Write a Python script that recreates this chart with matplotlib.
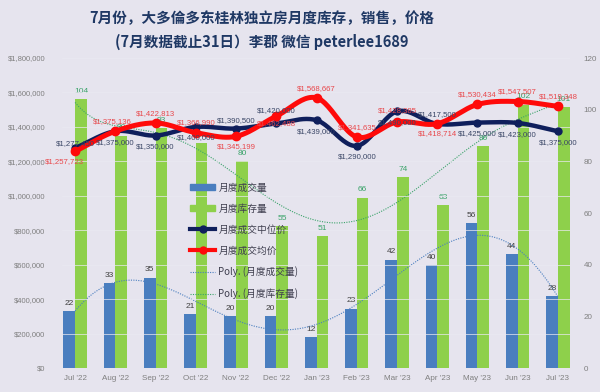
import numpy as np
import matplotlib
matplotlib.use("Agg")
import matplotlib.pyplot as plt
from matplotlib.lines import Line2D
from matplotlib.patches import Patch

plt.rcParams['font.family'] = ['Noto Sans CJK SC', 'DejaVu Sans']
NARROW = ['Liberation Sans Narrow', 'Liberation Sans', 'DejaVu Sans']

months = ["Jul '22", "Aug '22", "Sep '22", "Oct '22", "Nov '22", "Dec '22", "Jan '23",
          "Feb '23", "Mar '23", "Apr '23", "May '23", "Jun '23", "Jul '23"]
sales = [22, 33, 35, 21, 20, 20, 12, 23, 42, 40, 56, 44, 28]
inventory = [104, 90, 93, 87, 80, 55, 51, 66, 74, 63, 86, 102, 101]
median_price = [1277450, 1375000, 1350000, 1400000, 1390500, 1420000, 1439000,
                1290000, 1490000, 1417500, 1425000, 1423000, 1375000]
avg_price = [1257723, 1375136, 1422813, 1366990, 1345199, 1462488, 1568667,
             1341635, 1428385, 1418714, 1530434, 1547507, 1519348]

# label offsets (points) for price labels
med_off = [(0, 3), (0, -8), (0, -8), (0, -8), (0, 6), (0, 9), (0, -8),
           (0, -8), (0, -8), (0, 7), (0, -8), (0, -8), (0, -8)]
avg_off = [(-8, -7), (-2, 7), (0, 7), (0, 7), (0, -7), (0, -5), (0, 7),
           (0, 7), (0, 8), (0, -7), (0, 7), (0, 7), (0, 7)]

BG = '#E6E4EE'
BLUE = '#4A7EBF'
GREEN = '#8ED04B'
NAVY = '#0F1F5C'
RED = '#FF0A0A'


def smooth(xs, ys, n=24):
    xs = np.asarray(xs, float); ys = np.asarray(ys, float)
    px = np.concatenate([[2 * xs[0] - xs[1]], xs, [2 * xs[-1] - xs[-2]]])
    py = np.concatenate([[2 * ys[0] - ys[1]], ys, [2 * ys[-1] - ys[-2]]])
    ox, oy = [], []
    t = np.linspace(0, 1, n, endpoint=False)
    for i in range(1, len(px) - 2):
        for arr, out in ((px, ox), (py, oy)):
            p0, p1, p2, p3 = arr[i - 1], arr[i], arr[i + 1], arr[i + 2]
            out.extend(0.5 * ((2 * p1) + (-p0 + p2) * t + (2 * p0 - 5 * p1 + 4 * p2 - p3) * t ** 2
                              + (-p0 + 3 * p1 - 3 * p2 + p3) * t ** 3))
    ox.append(xs[-1]); oy.append(ys[-1])
    return np.array(ox), np.array(oy)


fig = plt.figure(figsize=(6.0, 3.92), dpi=100, facecolor=BG)
ax = fig.add_axes([0.103, 0.061, 0.847, 0.791])   # bars (right scale)
ax.set_facecolor(BG)
ax2 = ax.twinx()                                   # prices (left scale)

x = np.arange(len(months))
w = 0.29
ax.bar(x - w / 2, sales, w, color=BLUE, zorder=2)
ax.bar(x + w / 2, inventory, w, color=GREEN, zorder=2)
for xi, s, v in zip(x, sales, inventory):
    ax.annotate(str(s), (xi - w / 2, s), xytext=(0, 3), textcoords='offset points',
                ha='center', va='bottom', fontsize=6, color='#404040', family=NARROW)
    ax.annotate(str(v), (xi + w / 2, v), xytext=(0, 3), textcoords='offset points',
                ha='center', va='bottom', fontsize=6, color='#3BA36A', family=NARROW)

# polynomial trend lines (fit to data)
xf = np.linspace(0, 12, 300)
ps = np.polyfit(x, sales, 6)
pi = np.polyfit(x, inventory, 6)
ax.plot(xf, np.polyval(ps, xf), ls=(0, (1, 1.2)), lw=0.8, color='#4A7EBF', zorder=3)
ax.plot(xf, np.polyval(pi, xf), ls=(0, (1, 1.2)), lw=0.8, color='#3BA36A', zorder=3)

ax.set_ylim(0, 120)
ax.set_yticks(range(0, 121, 20))
ax.yaxis.tick_right()
ax.set_xlim(-0.33, 12.3)
ax.set_xticks(x)
ax.set_xticklabels(months)
ax.tick_params(axis='x', length=0, labelsize=5.8, labelcolor='#7F7F7F', pad=5)
ax.tick_params(axis='y', length=0, labelsize=5.8, labelcolor='#7F7F7F', pad=10)
for lbl in ax.get_xticklabels() + ax.get_yticklabels():
    lbl.set_family(NARROW)

# prices
sx, sy = smooth(x, median_price)
ax2.plot(sx, sy, color=NAVY, lw=3.2, zorder=4, solid_capstyle='round')
ax2.plot(x, median_price, 'o', color=NAVY, ms=5, zorder=4)
sx, sy = smooth(x, avg_price)
ax2.plot(sx, sy, color=RED, lw=3.6, zorder=5, solid_capstyle='round')
ax2.plot(x, avg_price, 'o', color=RED, ms=6, zorder=5)

for xi, v, off in zip(x, median_price, med_off):
    ax2.annotate(f"${v:,.0f}", (xi, v), xytext=off, textcoords='offset points',
                 ha='center', va='center', fontsize=5.6, color='#3A4666', zorder=6, family=NARROW)
for xi, v, off in zip(x, avg_price, avg_off):
    ax2.annotate(f"${v:,.0f}", (xi, v), xytext=off, textcoords='offset points',
                 ha='center', va='center', fontsize=5.6, color='#E8474B', zorder=6, family=NARROW)

ax2.set_ylim(0, 1800000)
ax2.set_yticks(range(0, 1800001, 200000))
ax2.set_yticklabels([f"${v:,.0f}" for v in range(0, 1800001, 200000)])
ax2.yaxis.tick_left()
ax2.tick_params(axis='y', length=0, labelsize=5.5, labelcolor='#7F7F7F', pad=12)
for lbl in ax2.get_yticklabels():
    lbl.set_family(NARROW)
for gy in range(200000, 1800001, 200000):
    ax2.axhline(gy, color='#EAE9F1', lw=0.5, zorder=0)

for a in (ax, ax2):
    for s in a.spines.values():
        s.set_visible(False)
ax.axhline(0, color='#D0CFD9', lw=0.6, zorder=1)

handles = [
    Patch(color=BLUE),
    Patch(color=GREEN),
    Line2D([], [], color=NAVY, lw=3, marker='o', ms=5),
    Line2D([], [], color=RED, lw=3, marker='o', ms=5),
    Line2D([], [], color='#4A7EBF', lw=0.8, ls=(0, (1, 1.2))),
    Line2D([], [], color='#3BA36A', lw=0.8, ls=(0, (1, 1.2))),
]
labels = ['月度成交量', '月度库存量', '月度成交中位价', '月度成交均价',
          'Poly. (月度成交量)', 'Poly. (月度库存量)']
leg = ax2.legend(handles, labels, loc='upper left', bbox_to_anchor=(0.245, 0.61),
                 frameon=False, fontsize=7, labelspacing=1.12, handlelength=2.6,
                 handleheight=0.6, handletextpad=0.3, borderaxespad=0)
for t in leg.get_texts():
    t.set_color('#404050')
leg.set_zorder(10)

fig.text(0.437, 0.955, '7月份，大多倫多东桂林独立房月度库存，销售，价格', ha='center', va='center',
         fontsize=10.5, fontweight='bold', color='#1F3864')
fig.text(0.437, 0.893, '(7月数据截止31日）李郡 微信 peterlee1689', ha='center', va='center',
         fontsize=10.5, fontweight='bold', color='#1F3864')

fig.savefig('out.png', dpi=100, facecolor=BG)
